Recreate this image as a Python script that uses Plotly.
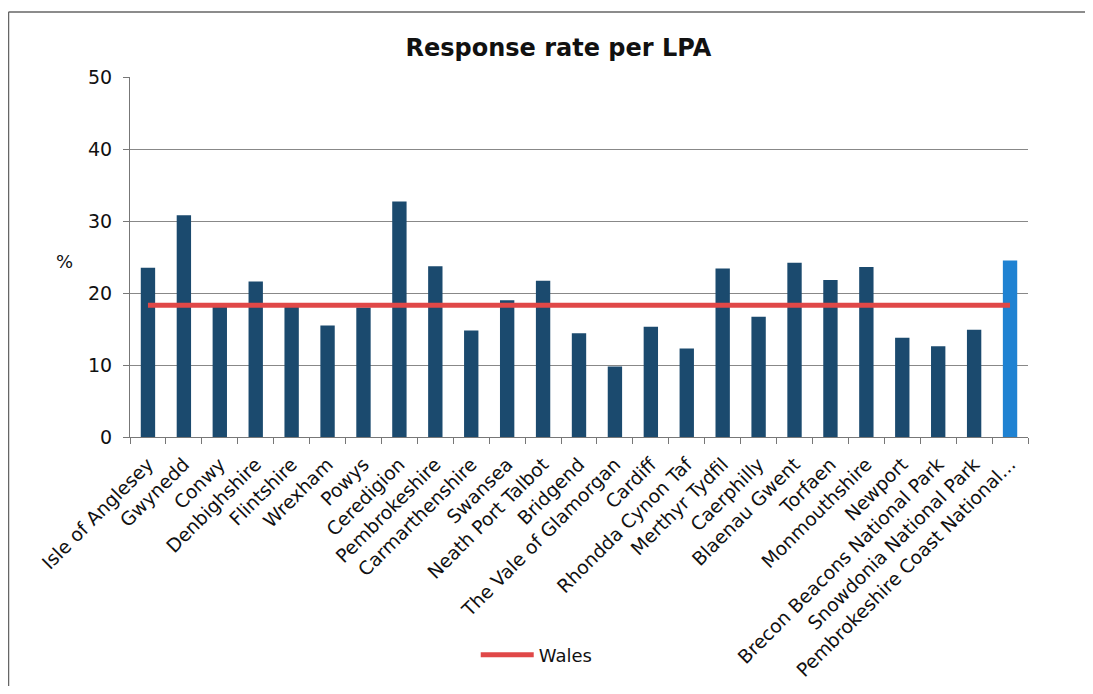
import plotly.graph_objects as go

categories = ["Isle of Anglesey", "Gwynedd", "Conwy", "Denbighshire", "Flintshire", "Wrexham",
              "Powys", "Ceredigion", "Pembrokeshire", "Carmarthenshire", "Swansea",
              "Neath Port Talbot", "Bridgend", "The Vale of Glamorgan", "Cardiff",
              "Rhondda Cynon Taf", "Merthyr Tydfil", "Caerphilly", "Blaenau Gwent", "Torfaen",
              "Monmouthshire", "Newport", "Brecon Beacons National Park",
              "Snowdonia National Park", "Pembrokeshire Coast National..."]
response_rate = [23.5, 30.8, 18.1, 21.6, 18.1, 15.5, 18.0, 32.7, 23.7, 14.8, 19.0, 21.7,
                 14.4, 9.8, 15.3, 12.3, 23.4, 16.7, 24.2, 21.8, 23.6, 13.8, 12.6, 14.9, 24.5]
wales_avg = [18.3] * len(categories)
y_ticks = [0, 10, 20, 30, 40, 50]

bar_colors = ["#1b4a6e"] * (len(categories) - 1) + ["#1f82d2"]

fig = go.Figure()
fig.add_trace(go.Bar(x=categories, y=response_rate, marker=dict(color=bar_colors, line=dict(width=0)),
                     showlegend=False, name="Response rate"))
fig.add_trace(go.Scatter(x=categories, y=wales_avg, mode="lines", name="Wales",
                         line=dict(color="#e04848", width=5)))

fig.update_layout(
    width=1077, height=678,
    margin=dict(l=122, r=57, t=69, b=249, autoexpand=False),
    paper_bgcolor="white", plot_bgcolor="white",
    font=dict(family="DejaVu Sans", color="#111", size=18),
    title=dict(text="<b>Response rate per LPA</b>", x=0.511, xanchor="center", y=0.941, yanchor="middle",
               font=dict(family="DejaVu Sans", size=24, color="#111")),
    bargap=0.6,
    legend=dict(orientation="h", x=0.385, y=-0.606, xanchor="left", yanchor="middle",
                font=dict(size=18), bgcolor="rgba(0,0,0,0)", itemwidth=53),
    xaxis=dict(tickangle=-45, tickson="boundaries", ticks="outside", ticklen=6, tickcolor="#777",
               showline=True, linecolor="#777", linewidth=1, showgrid=False, automargin=False,
               tickfont=dict(size=18.8), ticklabelstandoff=8),
    yaxis=dict(range=[0, 50], tickvals=y_ticks, ticks="outside", ticklen=6, tickcolor="#777",
               showline=True, linecolor="#777", linewidth=1, showgrid=True, gridcolor="#888",
               gridwidth=1, tickfont=dict(size=19), zeroline=False, ticklabelstandoff=7,
               automargin=False),
    annotations=[dict(text="%", xref="paper", yref="paper", x=-0.0724, y=0.488, showarrow=False,
                      font=dict(size=18), xanchor="center", yanchor="middle")],
    shapes=[
        dict(type="line", xref="paper", yref="paper", x0=-0.1353, x1=1.2, y0=1.1806, y1=1.1806,
             line=dict(color="#666", width=1.5)),
        dict(type="line", xref="paper", yref="paper", x0=-0.1353, x1=-0.1353, y0=1.1806, y1=-0.75,
             line=dict(color="#666", width=1.5)),
    ],
)

fig.write_html("out.html")
